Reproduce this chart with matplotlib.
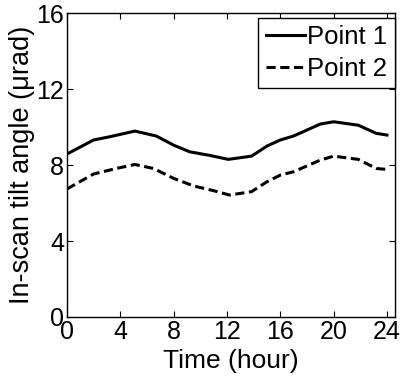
import matplotlib
matplotlib.use("Agg")
import matplotlib.pyplot as plt

hours1 = [0, 2.0, 3.2, 5.1, 6.7, 8.0, 9.2, 10.7, 12.1, 13.85, 15.0, 16.0, 17.0, 19.0, 20.0, 21.85, 23.2, 24.0]
point1 = [8.58, 9.32, 9.49, 9.79, 9.53, 9.05, 8.70, 8.51, 8.30, 8.47, 9.00, 9.32, 9.53, 10.16, 10.28, 10.10, 9.67, 9.58]
hours2 = [0, 2.0, 3.7, 5.1, 6.5, 8.0, 9.5, 11.0, 12.2, 13.85, 15.0, 16.0, 17.0, 19.0, 20.0, 21.85, 23.2, 24.0]
point2 = [6.74, 7.53, 7.82, 8.03, 7.82, 7.30, 6.90, 6.65, 6.42, 6.60, 7.12, 7.47, 7.65, 8.26, 8.47, 8.30, 7.82, 7.77]
xticks = [0, 4, 8, 12, 16, 20, 24]
yticks = [0, 4, 8, 12, 16]

plt.rcParams['font.family'] = ['Liberation Sans', 'DejaVu Sans']
fig = plt.figure(figsize=(4.03, 3.76), dpi=100)
ax = fig.add_axes([0.166, 0.157, 0.814, 0.808])
ax.plot(hours1, point1, color='black', lw=2.2, ls='-', label='Point 1')
ax.plot(hours2, point2, color='black', lw=2.2, ls=(0, (3.0, 1.5)), label='Point 2')
ax.set_xlim(0, 24.6)
ax.set_ylim(0, 16)
ax.set_xticks(xticks)
ax.set_yticks(yticks)
ax.tick_params(direction='in', top=True, right=True, labelsize=18, length=4, width=0.8, pad=2)
for s in ax.spines.values():
    s.set_linewidth(1.0)
ax.set_xlabel('Time (hour)', fontsize=19, labelpad=4)
ax.set_ylabel('In-scan tilt angle (μrad)', fontsize=19.5, labelpad=1)
leg = ax.legend(loc='upper right', bbox_to_anchor=(1.0, 0.985), borderaxespad=0,
                fontsize=18.5, fancybox=False, framealpha=1, edgecolor='black',
                handlelength=1.5, handletextpad=0.1, borderpad=0.3, labelspacing=0.28)
leg.get_frame().set_linewidth(1.0)
fig.savefig('out.png', dpi=100)
